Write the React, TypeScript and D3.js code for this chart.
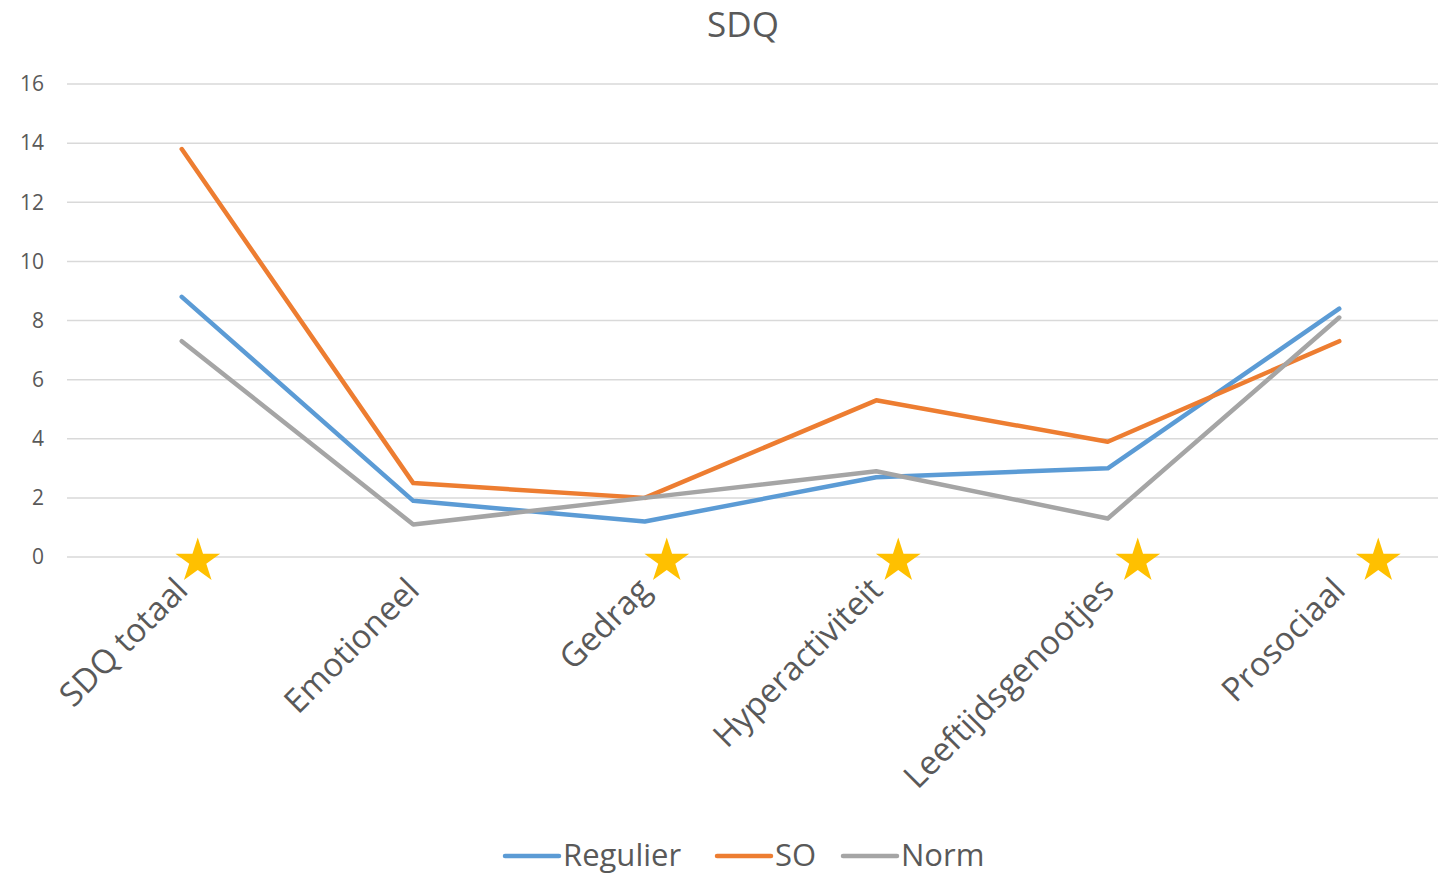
import React, { useEffect, useRef } from "react";
import * as d3 from "d3";

const categories = [
  "SDQ totaal",
  "Emotioneel",
  "Gedrag",
  "Hyperactiviteit",
  "Leeftijdsgenootjes",
  "Prosociaal",
];

const regulier = [8.8, 1.9, 1.2, 2.7, 3.0, 8.4];
const so = [13.8, 2.5, 2.0, 5.3, 3.9, 7.3];
const norm = [7.3, 1.1, 2.0, 2.9, 1.3, 8.1];

const yTicks = [0, 2, 4, 6, 8, 10, 12, 14, 16];

// categories that get a star marker (significant difference)
const starCats = [
  "SDQ totaal",
  "Gedrag",
  "Hyperactiviteit",
  "Leeftijdsgenootjes",
  "Prosociaal",
];
const starShift = [16, 22, 22, 30, 39];

const seriesNames = ["Regulier", "SO", "Norm"];
const seriesColors = ["#5B9BD5", "#ED7D31", "#A5A5A5"];

const App = () => {
  const svgRef = useRef<SVGSVGElement>(null);

  useEffect(() => {
    const width = 1438;
    const height = 875;
    const font = "'Open Sans', sans-serif";
    const textColor = "#595959";

    const svg = d3.select(svgRef.current);
    svg.selectAll("*").remove();
    svg.attr("width", width).attr("height", height);

    const x = d3
      .scalePoint<string>()
      .domain(categories)
      .range([66, 1455])
      .padding(0.5);

    const y = d3.scaleLinear().domain([0, 16]).range([557, 84]);

    // title
    svg
      .append("text")
      .attr("x", 743)
      .attr("y", 37)
      .attr("text-anchor", "middle")
      .attr("font-family", font)
      .attr("font-size", 35)
      .attr("fill", textColor)
      .text("SDQ");

    // gridlines + y labels
    const yAxis = svg.append("g");
    yAxis
      .selectAll("line")
      .data(yTicks)
      .join("line")
      .attr("x1", 67)
      .attr("x2", width)
      .attr("y1", (d) => y(d))
      .attr("y2", (d) => y(d))
      .attr("stroke", "#D9D9D9")
      .attr("stroke-width", 1.5);
    yAxis
      .selectAll("text")
      .data(yTicks)
      .join("text")
      .attr("x", 44)
      .attr("y", (d) => y(d))
      .attr("dy", "0.35em")
      .attr("text-anchor", "end")
      .attr("font-family", font)
      .attr("font-size", 21)
      .attr("fill", textColor)
      .text((d) => d);

    // category labels
    svg
      .append("g")
      .selectAll("text")
      .data(categories)
      .join("text")
      .attr(
        "transform",
        (d) => `translate(${(x(d) as number) + 8},${592}) rotate(-45)`
      )
      .attr("text-anchor", "end")
      .attr("font-family", font)
      .attr("font-size", 33)
      .attr("fill", textColor)
      .text((d) => d);

    // lines
    const line = d3
      .line<number>()
      .x((_, i) => x(categories[i]) as number)
      .y((d) => y(d));

    [regulier, so, norm].forEach((vals, i) => {
      svg
        .append("path")
        .datum(vals)
        .attr("d", line)
        .attr("fill", "none")
        .attr("stroke", seriesColors[i])
        .attr("stroke-width", 4.5)
        .attr("stroke-linecap", "round")
        .attr("stroke-linejoin", "round");
    });

    // stars
    const star = d3.symbol().type(d3.symbolStar).size(620);
    svg
      .append("g")
      .selectAll("path")
      .data(starCats)
      .join("path")
      .attr("d", star)
      .attr(
        "transform",
        (d, i) =>
          `translate(${(x(d) as number) + starShift[i]},${y(0) + 4})`
      )
      .attr("fill", "#FFC000");

    // legend
    const legendX = [505, 717, 843];
    const legend = svg
      .append("g")
      .selectAll("g")
      .data(seriesNames)
      .join("g")
      .attr("transform", (_, i) => `translate(${legendX[i]},856)`);
    legend
      .append("line")
      .attr("x1", 0)
      .attr("x2", 54)
      .attr("stroke", (_, i) => seriesColors[i])
      .attr("stroke-width", 4.5)
      .attr("stroke-linecap", "round");
    legend
      .append("text")
      .attr("x", 58)
      .attr("y", 10)
      .attr("font-family", font)
      .attr("font-size", 31)
      .attr("fill", textColor)
      .text((d) => d);
  }, []);

  return <svg ref={svgRef} style={{ position: "absolute", left: 0, top: 0 }} />;
};

export default App;
